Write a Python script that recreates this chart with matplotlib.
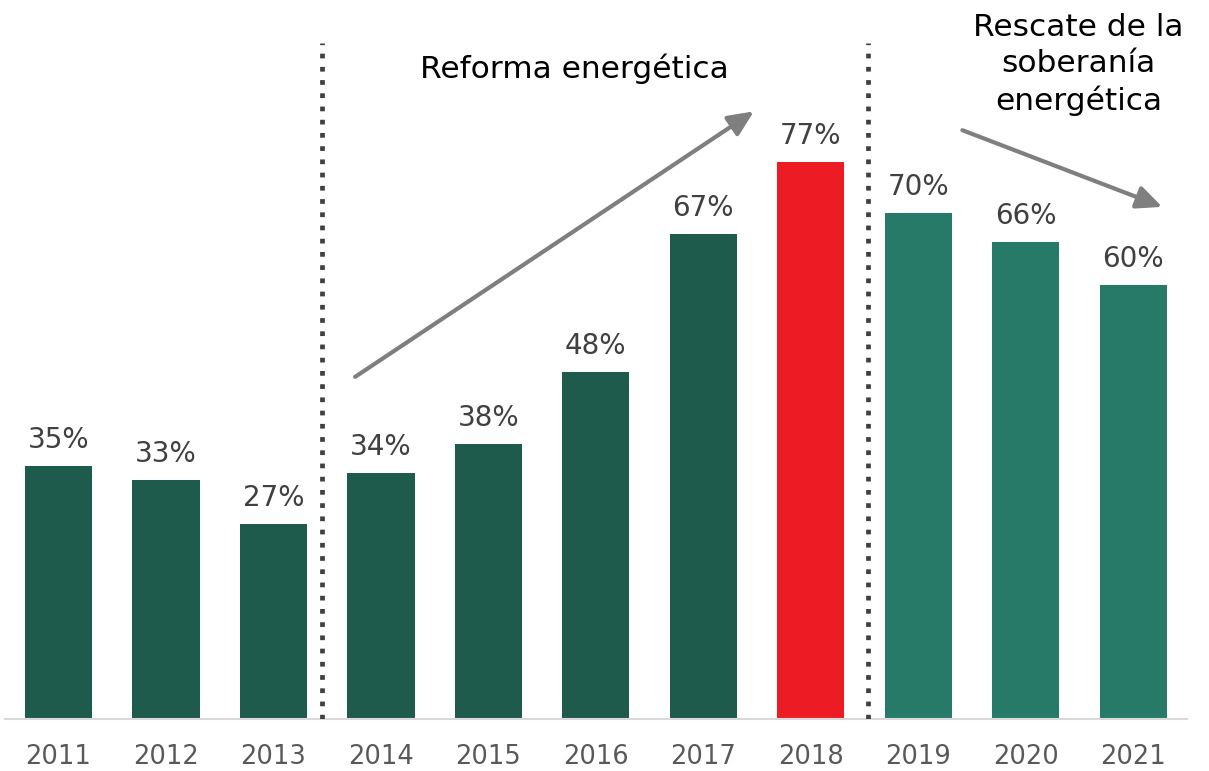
import matplotlib
matplotlib.use("Agg")
import matplotlib.pyplot as plt
import numpy as np

years = ["2011", "2012", "2013", "2014", "2015", "2016",
         "2017", "2018", "2019", "2020", "2021"]
values = [35, 33, 27, 34, 38, 48, 67, 77, 70, 66, 60]

# colour groups: before/reform, peak year, after
dark_green = "#1f5b4c"
light_green = "#277a68"
red = "#ed1c24"
colors = [dark_green] * 7 + [red] + [light_green] * 3

plt.rcParams["font.family"] = ["DejaVu Sans"]

fig = plt.figure(figsize=(12.09, 7.71), dpi=100)
ax = fig.add_axes([4.75 / 1209, 52 / 771, 1182.25 / 1209, 719 / 771])

x = np.arange(len(years))
bars = ax.bar(x, values, width=0.625, color=colors, zorder=2)

# value labels above the bars
for xi, v in zip(x, values):
    ax.annotate(f"{v}%", xy=(xi, v), xytext=(0, 13), textcoords="offset points",
                ha="center", va="baseline", fontsize=20, color="#404040")

# year labels under the baseline
for xi, yr in zip(x, years):
    ax.annotate(yr, xy=(xi, 0), xycoords=("data", "axes fraction"),
                xytext=(0, -32.5), textcoords="offset points",
                ha="center", va="baseline", fontsize=18.5, color="#595959")

# period separators
for sep in [2.45, 7.53]:
    ax.plot([sep, sep], [0, 93.4], color="#404040", lw=3.4,
            linestyle=(0, (1, 1.8)), dash_capstyle="butt", zorder=3)

# trend arrows
arrow_style = dict(arrowstyle="-|>,head_length=0.55,head_width=0.25",
                   mutation_scale=28, lw=3, color="#7f7f7f",
                   shrinkA=0, shrinkB=0)
ax.annotate("", xy=(6.47, 84.0), xytext=(2.76, 47.3), arrowprops=arrow_style)
ax.annotate("", xy=(10.27, 70.8), xytext=(8.41, 81.4), arrowprops=arrow_style)

# period titles
ax.text(4.80, 88.6, "Reforma energética", ha="center", va="baseline",
        fontsize=22.5, color="black")
ax.text(9.49, 97.6, "Rescate de la\nsoberanía\nenergética", ha="center",
        va="top", fontsize=22.5, color="black", linespacing=1.3,
        clip_on=False)

ax.set_xlim(-0.5, 10.5)
ax.set_ylim(0, 99.4)
ax.set_xticks([])
ax.set_yticks([])
for side in ["top", "left", "right"]:
    ax.spines[side].set_visible(False)
ax.spines["bottom"].set_color("#d9d9d9")
ax.spines["bottom"].set_linewidth(1.5)

fig.savefig("out.png", dpi=100)
